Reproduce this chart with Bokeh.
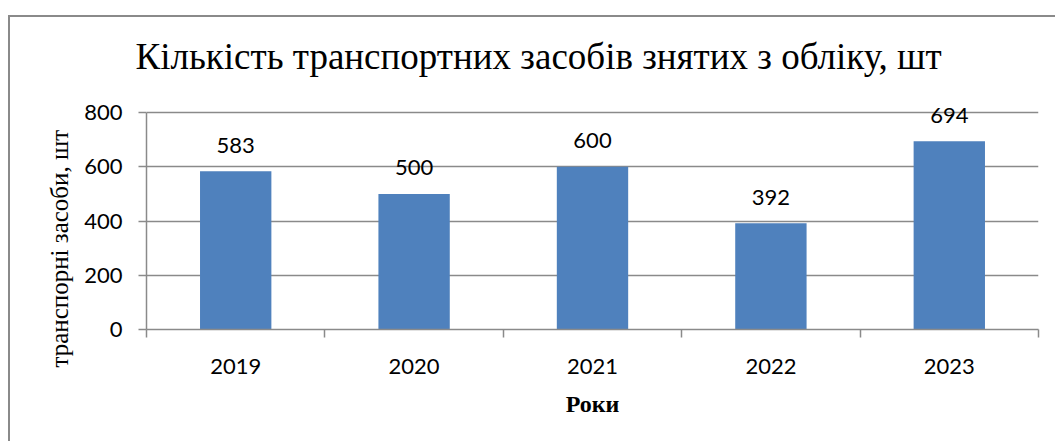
import numpy as np
from bokeh.plotting import figure
from bokeh.models import (ColumnDataSource, FixedTicker, LabelSet, Range1d, Title)
from bokeh.core.properties import value
from bokeh.embed import file_html
from bokeh.resources import INLINE

years = ["2019", "2020", "2021", "2022", "2023"]
values = [583, 500, 600, 392, 694]
y_ticks = [0, 200, 400, 600, 800]

title_text = "Кількість транспортних засобів знятих з обліку, шт"
y_label = "транспорні засоби, шт"
x_label = "Роки"

centers = np.arange(len(years)) + 0.5
bounds = list(np.arange(len(years) + 1).astype(float))

src = ColumnDataSource(dict(x=centers, top=values, lab=[str(v) for v in values]))

GRAY = "#8a8a8a"
W, H = 1047, 426
F_TOP, F_BOT = 74, 312
PX_AXIS = 217  # pixels spanned by 0..800
y_end = y_ticks[-1] * (F_BOT - F_TOP) / PX_AXIS

p = figure(width=W, height=H, output_backend="svg", toolbar_location=None,
           x_range=Range1d(0, len(years)), y_range=Range1d(0, y_end),
           min_border_left=136, min_border_right=19, min_border_top=F_TOP,
           min_border_bottom=H - F_BOT)
p.styles = {"border-top": f"2px solid {GRAY}", "border-left": f"2px solid {GRAY}",
            "margin-top": "15px", "margin-left": "8px"}
p.outline_line_color = None
p.background_fill_color = "white"
p.border_fill_color = "white"

p.vbar(x="x", top="top", width=0.4, source=src, fill_color="#4f81bd", line_color=None)

p.add_layout(LabelSet(x="x", y="top", text="lab", source=src, text_align="center",
                      text_baseline="middle", y_offset=26, text_font=value("Lato"),
                      text_font_size=value("22px"), text_color=value("black")))

p.xgrid.grid_line_color = None
p.ygrid.grid_line_color = GRAY
p.ygrid.grid_line_width = 1.5
p.ygrid.ticker = FixedTicker(ticks=y_ticks)

xa = p.xaxis[0]
xa.ticker = FixedTicker(ticks=list(centers), minor_ticks=bounds)
xa.major_label_overrides = {float(c): y for c, y in zip(centers, years)}
xa.major_tick_out = 0
xa.major_tick_in = 0
xa.minor_tick_out = 8
xa.minor_tick_in = 0
xa.minor_tick_line_color = GRAY
xa.minor_tick_line_width = 1.5
xa.axis_line_color = GRAY
xa.axis_line_width = 1.5
xa.major_label_text_font = "Lato"
xa.major_label_text_font_size = "22px"
xa.major_label_text_color = "black"
xa.major_label_standoff = 21
xa.axis_label = x_label
xa.axis_label_text_font = "Liberation Serif"
xa.axis_label_text_font_style = "bold"
xa.axis_label_text_font_size = "24px"
xa.axis_label_text_color = "black"
xa.axis_label_standoff = 14

ya = p.yaxis[0]
ya.ticker = FixedTicker(ticks=y_ticks)
ya.bounds = (y_ticks[0], y_ticks[-1])
ya.minor_tick_line_color = None
ya.major_tick_out = 8
ya.major_tick_in = 0
ya.major_tick_line_color = GRAY
ya.major_tick_line_width = 1.5
ya.axis_line_color = GRAY
ya.axis_line_width = 1.5
ya.major_label_text_font = "Lato"
ya.major_label_text_font_size = "22px"
ya.major_label_text_color = "black"
ya.major_label_standoff = 16

p.add_layout(Title(text=title_text, align="left", offset=-11, standoff=30,
                   text_font="Liberation Serif", text_font_size="37px",
                   text_font_style="normal", text_color="black"), "above")
p.add_layout(Title(text=y_label, align="left", offset=-38, standoff=18,
                   text_font="Liberation Serif", text_font_size="25px",
                   text_font_style="normal", text_color="black"), "left")

open("out.html", "w").write(file_html(p, INLINE))
